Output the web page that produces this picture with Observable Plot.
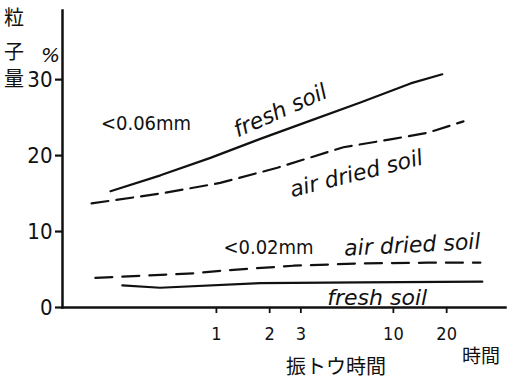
<!DOCTYPE html>
<html><head><meta charset="utf-8">
<script src="https://cdn.jsdelivr.net/npm/d3@7"></script>
<script src="https://cdn.jsdelivr.net/npm/@observablehq/plot@0.6"></script>
<style>
body{margin:0;background:#fff;}
#wrap{position:relative;width:508px;height:381px;font-family:"DejaVu Sans",sans-serif;}
.lab{position:absolute;color:#111;white-space:nowrap;line-height:1;}
.cjk{font-family:"Noto Sans CJK JP",sans-serif;}
</style></head>
<body><div id="wrap"></div>
<script>
// shaking time (hours) and particle amount (%)
const freshCoarseT = [0.252, 0.483, 0.925, 1.77, 3.40, 6.51, 12.5, 18.9];
const freshCoarseV = [15.3, 17.4, 19.7, 22.2, 24.6, 27.0, 29.5, 30.7];
const airCoarseT = [0.197, 0.483, 1.05, 2.21, 5.22, 10, 15.6, 24.9];
const airCoarseV = [13.7, 15.0, 16.4, 18.4, 21.1, 22.2, 23.0, 24.5];
const airFineT = [0.207, 0.74, 1.15, 2.72, 6.5, 15.5, 31];
const airFineV = [3.9, 4.5, 4.9, 5.5, 5.8, 5.9, 5.9];
const freshFineT = [0.294, 0.48, 1.77, 6.5, 31.8];
const freshFineV = [2.9, 2.6, 3.2, 3.3, 3.4];
const xTicks = [1, 2, 3, 10, 20];
const yTicks = [0, 10, 20, 30];
const labelText = ["<0.06mm", "fresh soil", "air dried soil", "<0.02mm", "air dried soil", "fresh soil"];
const labelT = [0.40, 2.30, 6.18, 1.97, 12.8, 8.1];
const labelV = [24.2, 25.9, 17.6, 7.9, 8.2, 1.3];
const labelAngle = [0, -24, -14, 0, -3, 0];

const series = (T, V) => T.map((t, i) => ({t, v: V[i]}));
const labels = labelText.map((s, i) => ({s, t: labelT[i], v: labelV[i], a: labelAngle[i], italic: i !== 0 && i !== 3}));

const plot = Plot.plot({
  width: 508, height: 381,
  marginLeft: 62, marginRight: 3, marginTop: 10, marginBottom: 74,
  style: {fontFamily: '"DejaVu Sans Condensed","DejaVu Sans",sans-serif', color: "#111", background: "#fff"},
  x: {type: "log", domain: [0.135, 43]},
  y: {domain: [0, 39.1]},
  marks: [
    Plot.axisX({ticks: xTicks, tickFormat: d => String(d), tickSize: 6, tickPadding: 14, fontSize: 18, label: null, strokeWidth: 1.8}),
    Plot.axisY({ticks: yTicks, tickSize: 7, tickPadding: 3, fontSize: 22, label: null, strokeWidth: 2.2}),
    Plot.frame({anchor: "left", strokeWidth: 2.5}),
    Plot.frame({anchor: "bottom", strokeWidth: 2.5}),
    Plot.line(series(freshCoarseT, freshCoarseV), {x: "t", y: "v", stroke: "#111", strokeWidth: 2.2}),
    Plot.line(series(airCoarseT, airCoarseV), {x: "t", y: "v", stroke: "#111", strokeWidth: 2.2, strokeDasharray: "17,8"}),
    Plot.line(series(airFineT, airFineV), {x: "t", y: "v", stroke: "#111", strokeWidth: 2.2, strokeDasharray: "17,10"}),
    Plot.line(series(freshFineT, freshFineV), {x: "t", y: "v", stroke: "#111", strokeWidth: 2.2}),
    Plot.text(labels.filter(d => !d.italic), {x: "t", y: "v", text: "s", fontSize: 20, fill: "#111"}),
    Plot.text(labels.filter(d => d.italic), {x: "t", y: "v", text: "s", rotate: "a", fontSize: 22, fontStyle: "italic", fill: "#111", fontFamily: '"DejaVu Sans",sans-serif'})
  ]
});
const wrap = document.getElementById("wrap");
wrap.appendChild(plot);
const add = (txt, cls, css) => { const d = document.createElement("div"); d.className = "lab " + cls; d.textContent = txt; Object.assign(d.style, css); wrap.appendChild(d); };
add("粒", "cjk", {left: "4px", top: "7px", fontSize: "20px"});
add("子", "cjk", {left: "4px", top: "41px", fontSize: "20px"});
add("量", "cjk", {left: "4px", top: "68px", fontSize: "20px"});
add("%", "", {left: "41px", top: "45px", fontSize: "20px", fontStyle: "italic"});
add("時間", "cjk", {left: "462px", top: "345px", fontSize: "19px"});
add("振トウ時間", "cjk", {left: "286px", top: "356px", fontSize: "20px"});
</script></body></html>
